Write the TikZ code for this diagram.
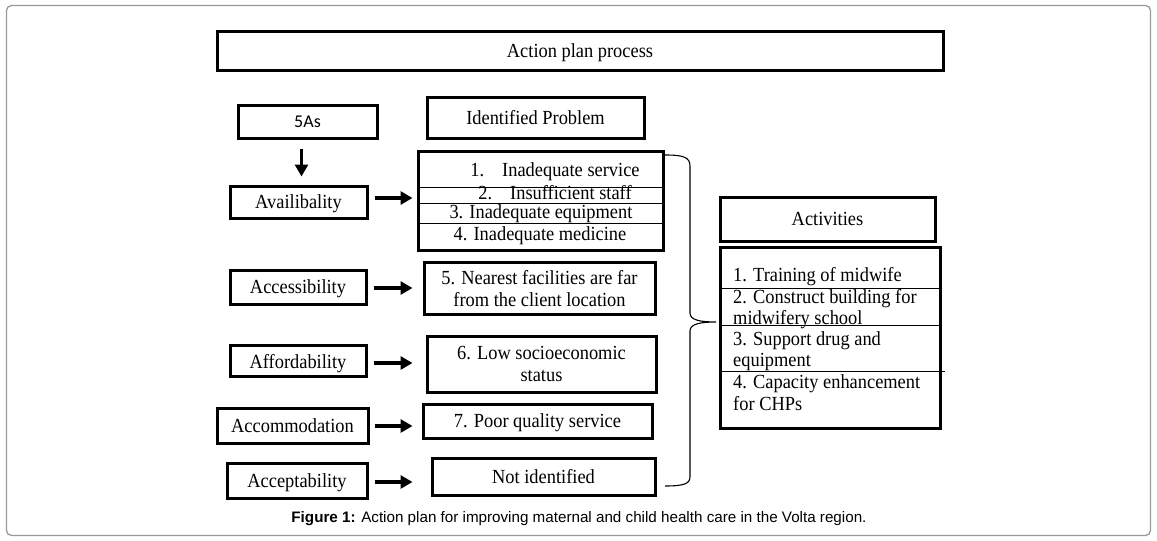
\documentclass[tikz,border=0pt]{standalone}
\usepackage{fontspec}
\setmainfont[FakeStretch=0.92]{Liberation Serif}
\newfontfamily\capfont{Liberation Sans}
\newfontfamily\calfont{Carlito}
\usetikzlibrary{arrows.meta,shadows}
\begin{document}
\begin{tikzpicture}[x=1pt,y=-1pt,
  box/.style={draw=black,line width=3pt,fill=white,inner sep=0pt,align=center,
    text depth=0pt,font=\fontsize{20}{22}\selectfont,
    drop shadow={shadow xshift=1.5pt,shadow yshift=-1.8pt,opacity=0.25,fill=black}},
  rowtext/.style={inner sep=0pt,text depth=0pt,font=\fontsize{20}{22}\selectfont},
  sep/.style={line width=0.9pt},
  arr/.style={line width=3.3pt,-{Triangle[length=12pt,width=13pt]}},
  brace/.style={line width=1.1pt}]
\useasboundingbox (0,0) rectangle (1157,541);
% outer frame
\draw[draw=black!40,line width=1.3pt,rounded corners=5pt] (6.5,5.5) rectangle (1150.5,535.5);

% title
\node[box,minimum width=726pt,minimum height=39pt] (title) at (580,50.5) {Action plan process};

% left column
\node[box,minimum width=139pt,minimum height=33pt,font=\calfont\fontsize{18}{20}\selectfont] (fiveAs) at (307.5,121.5) {5As};
\node[box,minimum width=137pt,minimum height=32pt] (avail) at (298.5,202) {Availibality};
\node[box,minimum width=136pt,minimum height=34pt] (access) at (298,287) {Accessibility};
\node[box,minimum width=136pt,minimum height=31pt] (afford) at (298,361) {Affordability};
\node[box,minimum width=151pt,minimum height=35pt] (accom) at (292.5,426) {Accommodation};
\node[box,minimum width=140pt,minimum height=35pt] (accept) at (297,480.5) {Acceptability};

% middle column
\node[box,minimum width=217pt,minimum height=41pt] (idprob) at (535.5,117.5) {Identified Problem};
\node[box,minimum width=245pt,minimum height=99pt] (plist) at (540.5,200.5) {};
\draw[sep] (418,187) -- (663,187);
\draw[sep] (418,203) -- (663,203);
\draw[sep] (418,223) -- (663,223);
\node[rowtext] (r1) at (555,170) {1.\hspace{0.9em}Inadequate service};
\node[rowtext] (r2) at (555,192) {2.\hspace{0.9em}Insufficient staff};
\node[rowtext] (r3) at (541,212) {3. Inadequate equipment};
\node[rowtext] (r4) at (540,234) {4. Inadequate medicine};

\node[box,minimum width=231pt,minimum height=52pt] (p5) at (539.5,288) {5. Nearest facilities are far\\from the client location};
\node[box,minimum width=229pt,minimum height=56pt] (p6) at (541.5,364) {6. Low socioeconomic\\status};
\node[box,minimum width=229pt,minimum height=34pt] (p7) at (537.5,421) {7. Poor quality service};
\node[box,minimum width=223pt,minimum height=37pt] (pnone) at (543.5,476.5) {Not identified};

% arrows
\draw[arr,shorten <=9pt,shorten >=8pt] ([xshift=-6pt]fiveAs.south) -- ([xshift=-6pt]fiveAs.south |- avail.north);
\draw[arr,shorten <=6pt,shorten >=4pt] ([yshift=4pt]avail.east) -- ([yshift=4pt]avail.east -| plist.west);
\draw[arr,shorten <=6pt,shorten >=10pt] ([yshift=-1pt]access.east) -- ([yshift=-1pt]access.east -| p5.west);
\draw[arr,shorten <=6pt,shorten >=13pt] ([yshift=-2pt]afford.east) -- ([yshift=-2pt]afford.east -| p6.west);
\draw[arr,shorten <=5pt,shorten >=9pt] (accom.east) -- (accom.east -| p7.west);
\draw[arr,shorten <=6pt,shorten >=18pt] ([yshift=-1.5pt]accept.east) -- ([yshift=-1.5pt]accept.east -| pnone.west);

% brace
\coordinate (btop) at (665,155);
\coordinate (btip) at (716,322);
\coordinate (bbot) at (665,486);
\draw[brace] (btop) .. controls (683,155) and (690,157) .. (690,166) -- (690,313)
  .. controls (690,320) and (700,322) .. (btip)
  .. controls (700,322) and (690,324) .. (690,331) -- (690,477)
  .. controls (690,484) and (683,486) .. (bbot);

% right column
\node[box,minimum width=215pt,minimum height=44pt] (acttitle) at (827.5,219) {Activities};
\node[box,minimum width=220pt,minimum height=181pt] (actlist) at (830,337.5) {};
\draw[sep] (720,288) -- (940,288);
\draw[sep] (720,325) -- (940,325);
\draw[sep] (720,371) -- (945,371);
\node[rowtext,anchor=west] (a1) at (733,274) {1. Training of midwife};
\node[rowtext,anchor=west] (a2a) at (733,296) {2. Construct building for};
\node[rowtext,anchor=west] (a2b) at (733,317) {midwifery school};
\node[rowtext,anchor=west] (a3a) at (733,339) {3. Support drug and};
\node[rowtext,anchor=west] (a3b) at (733,360) {equipment};
\node[rowtext,anchor=west] (a4a) at (733,382) {4. Capacity enhancement};
\node[rowtext,anchor=west] (a4b) at (733,403) {for CHPs};

% caption
\node[inner sep=0pt,font=\capfont\fontsize{15.2}{17}\selectfont] (cap) at (579,519)
  {\textbf{Figure 1:} Action plan for improving maternal and child health care in the Volta region.};
\end{tikzpicture}
\end{document}
